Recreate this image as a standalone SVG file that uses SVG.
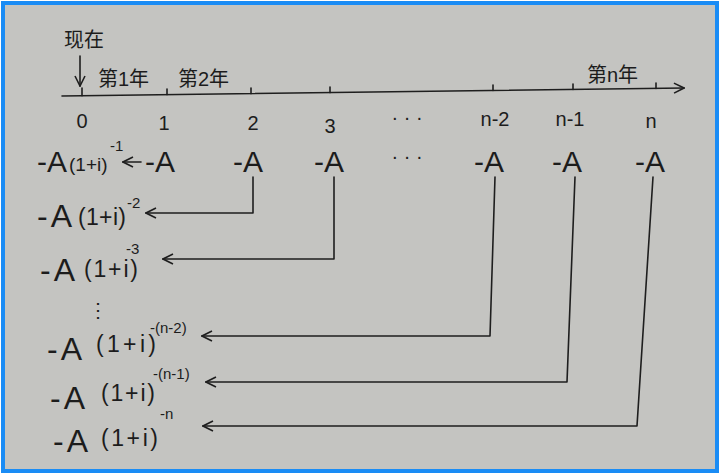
<svg xmlns="http://www.w3.org/2000/svg" width="720" height="474" viewBox="0 0 720 474">
<style>
text { font-family: "Liberation Sans", "Noto Sans CJK SC", sans-serif; fill: #1c1c1c; }
.cn { font-size: 20px; }
.lb { font-size: 20px; text-anchor: middle; }
.pa { font-size: 30px; }
.bA { font-size: 32px; letter-spacing: 3px; }
.par { font-size: 23px; }
.sup { font-size: 15px; }
.ln { fill: none; stroke: #1e1e1e; stroke-width: 1.6; stroke-linecap: round; stroke-linejoin: round; }
</style>
<defs>
<marker id="ae" viewBox="0 0 12 12" refX="11" refY="6" markerWidth="12" markerHeight="12" markerUnits="userSpaceOnUse" orient="auto">
<path d="M1,1 L11,6 L1,11" fill="none" stroke="#1e1e1e" stroke-width="1.6"/>
</marker>
</defs>
<rect x="0" y="0" width="720" height="474" fill="#ffffff"/>
<rect x="3" y="3" width="714" height="468" fill="#c4c4c1" stroke="#1a8cf5" stroke-width="4"/>

<g id="connectors">
<path class="ln" d="M62,96 L684,88" marker-end="url(#ae)"/>
<path class="ln" d="M82,95.7 V88"/>
<path class="ln" d="M167,94.6 V89"/>
<path class="ln" d="M251,93.6 V88"/>
<path class="ln" d="M330,92.6 V87"/>
<path class="ln" d="M493,90.5 V85"/>
<path class="ln" d="M573,89.4 V84"/>
<path class="ln" d="M656,88.4 V83"/>
<path class="ln" d="M80,56 V86" marker-end="url(#ae)"/>
<path class="ln" d="M141,162 H123" marker-end="url(#ae)"/>
<path class="ln" d="M253,177 V213 H146" marker-end="url(#ae)"/>
<path class="ln" d="M334,177 V259 H163" marker-end="url(#ae)"/>
<path class="ln" d="M495,177 L490,336 H202" marker-end="url(#ae)"/>
<path class="ln" d="M575,177 L567,382 H206" marker-end="url(#ae)"/>
<path class="ln" d="M653,177 L637,426 H203" marker-end="url(#ae)"/>
</g>

<g id="now"><text class="cn" x="64" y="47" font-size="22">现在</text></g>
<g id="year1"><text class="cn" x="98" y="86">第1年</text></g>
<g id="year2"><text class="cn" x="178" y="86">第2年</text></g>
<g id="yearn"><text class="cn" x="587" y="82">第n年</text></g>

<g id="ticklabels">
<text class="lb" x="82" y="128">0</text>
<text class="lb" x="164" y="130">1</text>
<text class="lb" x="253" y="130">2</text>
<text class="lb" x="330" y="133">3</text>
<text class="lb" x="407" y="124">· · ·</text>
<text class="lb" x="495" y="126">n-2</text>
<text class="lb" x="570" y="126">n-1</text>
<text class="lb" x="651" y="128">n</text>
</g>

<g id="payments">
<text class="pa" x="145" y="172">-A</text>
<text class="pa" x="233" y="172">-A</text>
<text class="pa" x="314" y="172">-A</text>
<text class="lb" x="407" y="163">· · ·</text>
<text class="pa" x="474" y="172">-A</text>
<text class="pa" x="552" y="172">-A</text>
<text class="pa" x="635" y="172">-A</text>
</g>

<g id="pv1">
<text x="37" y="172"><tspan class="pa">-A</tspan><tspan x="69" y="171" font-size="19">(1+i)</tspan></text>
<text class="sup" x="110" y="151">-1</text>
</g>
<g id="pv2">
<text x="37" y="227"><tspan class="bA">-A</tspan><tspan class="par" x="78" y="225" textLength="48">(1+i)</tspan><tspan class="sup" x="127" y="208">-2</tspan></text>
</g>
<g id="pv3">
<text x="40" y="281"><tspan class="bA">-A</tspan><tspan class="par" x="84" y="277" textLength="54">(1+i)</tspan><tspan class="sup" x="126" y="254">-3</tspan></text>
</g>
<g id="vdots"><text x="88" y="317" font-size="20">⋮</text></g>
<g id="pvn2">
<text x="47" y="360"><tspan class="bA">-A</tspan><tspan class="par" x="96" y="352" textLength="60">(1+i)</tspan><tspan class="sup" x="150" y="333">-(n-2)</tspan></text>
</g>
<g id="pvn1">
<text x="50" y="409"><tspan class="bA">-A</tspan><tspan class="par" x="101" y="401" textLength="54">(1+i)</tspan><tspan class="sup" x="153" y="379">-(n-1)</tspan></text>
</g>
<g id="pvn">
<text x="53" y="452"><tspan class="bA">-A</tspan><tspan class="par" x="101" y="446" textLength="57">(1+i)</tspan><tspan class="sup" x="160" y="419">-n</tspan></text>
</g>
</svg>
